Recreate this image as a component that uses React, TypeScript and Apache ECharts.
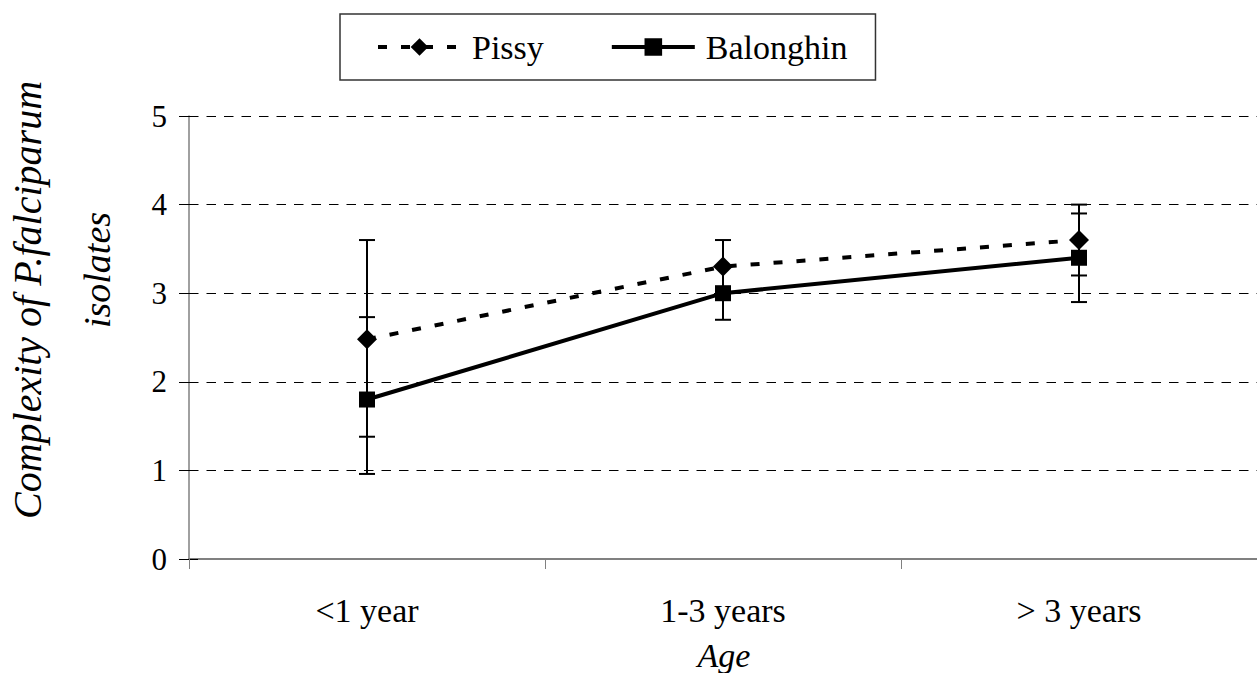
import React, { useEffect, useRef } from "react";
import * as echarts from "echarts";

const categories = ["<1 year", "1-3 years", "> 3 years"];
const pissy = [2.48, 3.3, 3.6];
const pissyLow = [1.38, 3.0, 3.2];
const pissyHigh = [3.6, 3.6, 4.0];
const balonghin = [1.8, 3.0, 3.4];
const balonghinLow = [0.96, 2.7, 2.9];
const balonghinHigh = [2.73, 3.3, 3.9];
const yMin = 0;
const yMax = 5;
const yStep = 1;

const FONT = "Liberation Serif, Times New Roman, serif";

function errorSeries(name: string, low: number[], high: number[]) {
  return {
    type: "custom",
    name,
    z: 2,
    encode: { x: 0, y: [1, 2] },
    data: categories.map((_, i) => [i, low[i], high[i]]),
    renderItem: (_params: any, api: any) => {
      const x = api.value(0);
      const lo = api.coord([x, api.value(1)]);
      const hi = api.coord([x, api.value(2)]);
      const hw = 8;
      const st = { stroke: "#000", lineWidth: 2 };
      return {
        type: "group",
        children: [
          { type: "line", shape: { x1: lo[0], y1: lo[1], x2: hi[0], y2: hi[1] }, style: st },
          { type: "line", shape: { x1: lo[0] - hw, y1: lo[1], x2: lo[0] + hw, y2: lo[1] }, style: st },
          { type: "line", shape: { x1: hi[0] - hw, y1: hi[1], x2: hi[0] + hw, y2: hi[1] }, style: st },
        ],
      };
    },
  };
}

export default function App() {
  const ref = useRef<HTMLDivElement>(null);
  useEffect(() => {
    if (!ref.current) return;
    const chart = echarts.init(ref.current, undefined, { renderer: "svg" });
    chart.setOption({
      animation: false,
      backgroundColor: "#fff",
      textStyle: { fontFamily: FONT },
      grid: { left: 189, top: 116, height: 443, width: 1083, containLabel: false },
      legend: {
        data: [
          { name: "Pissy", lineStyle: { width: 4, type: [9, 14] } },
          { name: "Balonghin", lineStyle: { width: 4 } },
        ],
        left: 340,
        top: 14,
        orient: "horizontal",
        padding: [16, 28, 16, 36],
        itemWidth: 83,
        itemHeight: 22,
        itemGap: 66,
        backgroundColor: "#fff",
        borderColor: "#333",
        borderWidth: 1.5,
        borderRadius: 0,
        textStyle: { fontSize: 34, fontFamily: FONT, color: "#000", padding: [0, 0, 0, 6] },
      },
      xAxis: {
        type: "category",
        data: categories,
        boundaryGap: true,
        axisLine: { show: true, lineStyle: { color: "#808080", width: 2 } },
        axisTick: { show: true, length: 10, lineStyle: { color: "#808080", width: 1 } },
        axisLabel: { fontSize: 34, fontFamily: FONT, color: "#000", margin: 34 },
        splitLine: { show: false },
      },
      yAxis: [
        {
          type: "value",
          min: yMin,
          max: yMax,
          interval: yStep,
          axisLine: { show: true, lineStyle: { color: "#808080", width: 1.5 } },
          axisTick: { show: true, length: 10, lineStyle: { color: "#000", width: 1 } },
          axisLabel: { fontSize: 31, fontFamily: FONT, color: "#000", margin: 22 },
          splitLine: { show: true, lineStyle: { color: "#000", width: 1, type: [9.5, 8] } },
        },
        {
          type: "value",
          position: "left",
          min: yMin,
          max: yMax,
          interval: yStep,
          axisLine: { show: false },
          axisTick: { show: true, inside: true, length: 9, lineStyle: { color: "#000", width: 1 } },
          axisLabel: { show: false },
          splitLine: { show: false },
        },
      ],
      graphic: [
        {
          type: "text",
          x: 27,
          y: 300,
          rotation: Math.PI / 2,
          style: {
            text: "Complexity of P.falciparum",
            fontSize: 40,
            fontStyle: "italic",
            fontFamily: FONT,
            fill: "#000",
            align: "center",
            verticalAlign: "middle",
          },
        },
        {
          type: "text",
          x: 97,
          y: 270,
          rotation: Math.PI / 2,
          style: {
            text: "isolates",
            fontSize: 38,
            fontStyle: "italic",
            fontFamily: FONT,
            fill: "#000",
            align: "center",
            verticalAlign: "middle",
          },
        },
        {
          type: "text",
          x: 724,
          y: 655,
          style: {
            text: "Age",
            fontSize: 34,
            fontStyle: "italic",
            fontFamily: FONT,
            fill: "#000",
            align: "center",
            verticalAlign: "middle",
          },
        },
      ],
      series: [
        errorSeries("Pissy err", pissyLow, pissyHigh),
        errorSeries("Balonghin err", balonghinLow, balonghinHigh),
        {
          name: "Pissy",
          type: "line",
          data: pissy,
          z: 3,
          symbol: "diamond",
          symbolSize: 20,
          lineStyle: { color: "#000", width: 4, type: [9, 14] },
          itemStyle: { color: "#000" },
        },
        {
          name: "Balonghin",
          type: "line",
          data: balonghin,
          z: 3,
          symbol: "rect",
          symbolSize: 16,
          lineStyle: { color: "#000", width: 4, type: "solid" },
          itemStyle: { color: "#000" },
        },
      ],
    });
    return () => chart.dispose();
  }, []);
  return (
    <div
      ref={ref}
      style={{ position: "absolute", left: 0, top: 0, width: 1257, height: 673, background: "#fff" }}
    />
  );
}
